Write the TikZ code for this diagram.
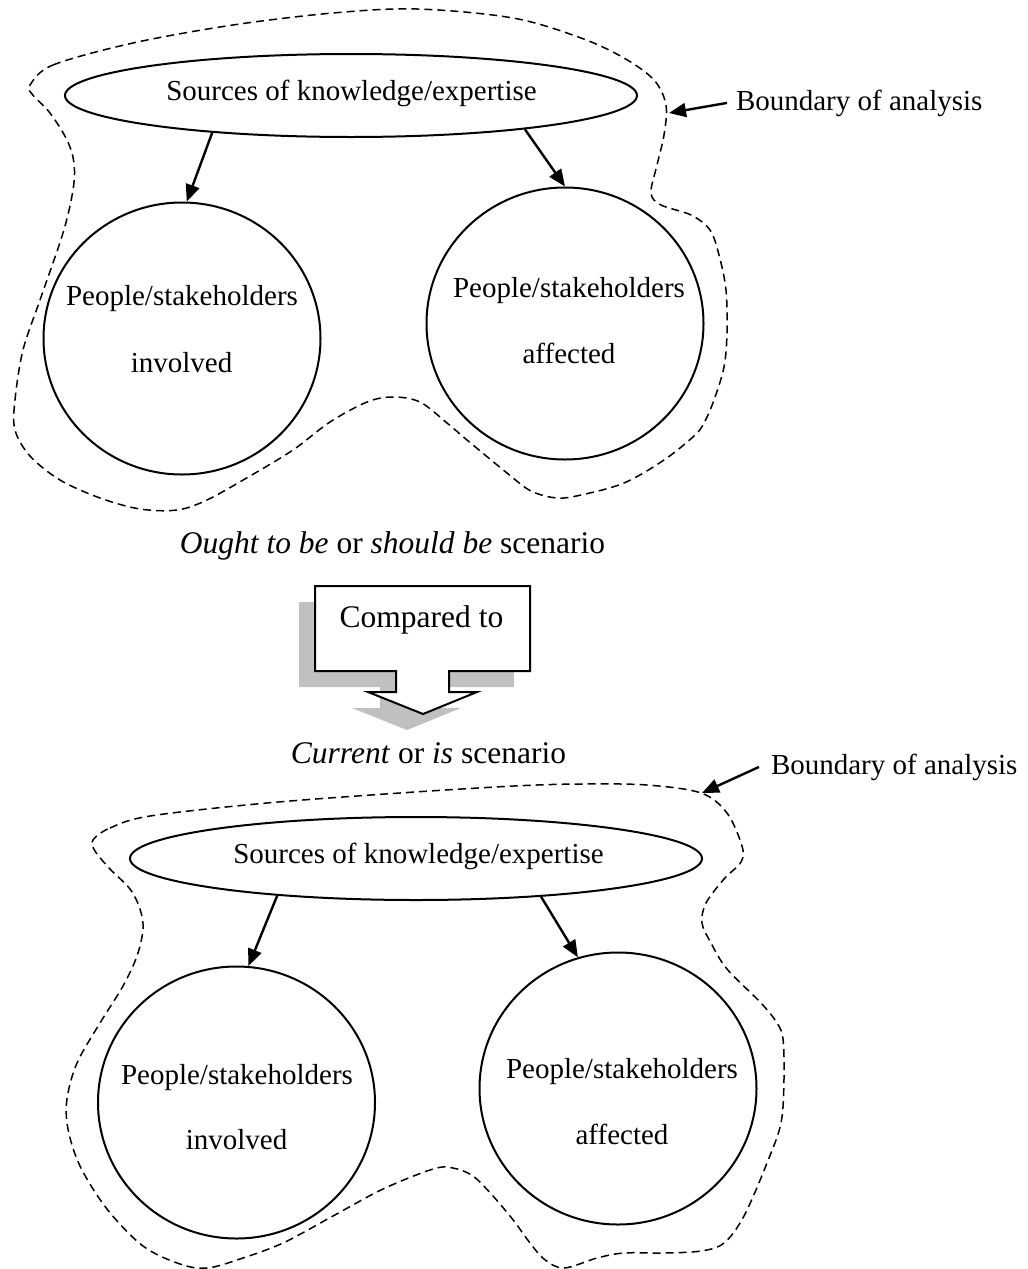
\documentclass[tikz,border=0pt]{standalone}
\usepackage{fontspec}
\setmainfont{Liberation Serif}
\usetikzlibrary{shapes.geometric,arrows.meta}
\definecolor{shadowgray}{HTML}{C0C0C0}
\tikzset{
  oval/.style={draw, line width=2pt, ellipse, inner sep=0pt, minimum width=572pt, minimum height=83pt},
  pcircle/.style={draw, line width=2pt, ellipse, inner sep=0pt, minimum width=277pt, minimum height=272pt},
  txt/.style={anchor=base, inner sep=0pt, font=\fontsize{29}{34}\selectfont},
  bigtxt/.style={anchor=base, inner sep=0pt, font=\fontsize{31.5}{38}\selectfont},
  lab/.style={anchor=base west, inner sep=0pt, font=\fontsize{29}{34}\selectfont},
  arr/.style={line width=2.4pt, -{Triangle[length=17pt,width=14pt]}},
  bound/.style={line width=1.5pt, dash pattern=on 8pt off 5pt},
  callout/.style={line width=2pt}
}
\begin{document}
\begin{tikzpicture}[x=1pt,y=-1pt]
\useasboundingbox (0,0) rectangle (1028,1269);

% ---------------- upper scenario ----------------
\draw[bound] plot[smooth cycle, tension=0.55] coordinates {
 (30,85) (53,65) (133,43) (233,25) (333,13) (417,9) (513,18) (581,38) (624,58) (654,80)
 (666,105) (664,135) (657,165) (651,193) (661,205) (691,215) (710,230) (719,255) (726,290)
 (727,333) (724,367) (714,400) (704,423) (694,436) (664,460) (624,483) (581,495) (557,498)
 (531,491) (507,473) (467,440) (447,423) (420,402) (393,397) (367,402) (330,422) (293,450)
 (250,476) (207,500) (177,510) (140,509) (100,498) (60,480) (30,456) (15,430) (15,400)
 (23,350) (40,300) (63,233) (73,190) (74,163) (67,140) (50,113) (32,94)};

\node[oval] (src1) at (351,95.5) {};
\node[txt] (src1t) at (351.5,100) {Sources of knowledge/expertise};

\node[pcircle] (inv1) at (182,338.5) {};
\node[txt] (inv1a) at (182,305) {People/stakeholders};
\node[txt] (inv1b) at (181.5,372) {involved};

\node[pcircle] (aff1) at (565,323.5) {};
\node[txt] (aff1a) at (569,297) {People/stakeholders};
\node[txt] (aff1b) at (569,363) {affected};

\draw[arr] (src1.195.8) -- (inv1.88.3);
\draw[arr] (src1.349) -- (aff1.90);

\node[lab, outer xsep=9pt] (lab1) at (727,110) {Boundary of analysis};
\coordinate (b1) at (669,113);
\draw[arr] (lab1.west) -- (b1);

\node[bigtxt] (ought) at (392.5,553) {\textit{Ought to be} or \textit{should be} scenario};

% ---------------- compared-to callout ----------------
\fill[shadowgray] (299,602) -- (514,602) -- (514,687) -- (433,687) -- (433,708) -- (461,708)
  -- (407,730) -- (352,708) -- (380,708) -- (380,687) -- (299,687) -- cycle;
\draw[callout, fill=white] (315,586) -- (530,586) -- (530,671) -- (449,671) -- (449,692) -- (477,692)
  -- (423,714) -- (368,692) -- (396,692) -- (396,671) -- (315,671) -- cycle;
\node[bigtxt] (cmp) at (421.5,627) {Compared to};

\node[bigtxt] (curr) at (428.5,763) {\textit{Current} or \textit{is} scenario};

% ---------------- lower scenario ----------------
\draw[bound] plot[smooth cycle, tension=0.55] coordinates {
 (93,840) (110,828) (150,816) (267,803) (400,793) (514,786) (581,784) (647,785) (701,793)
 (727,813) (742,846) (741,862) (724,879) (706,903) (702,923) (711,943) (727,969) (761,1003)
 (777,1023) (783,1039) (784,1079) (781,1123) (767,1163) (744,1216) (724,1243) (701,1251)
 (664,1253) (624,1253) (597,1258) (564,1268) (544,1259) (527,1239) (514,1221) (493,1196)
 (473,1176) (453,1168) (433,1169) (383,1189) (333,1216) (283,1243) (240,1259) (207,1268)
 (180,1264) (143,1246) (107,1209) (80,1166) (68,1129) (67,1099) (77,1063) (100,1023)
 (123,986) (137,956) (143,929) (140,909) (130,889) (110,869) (95,851)};

\node[oval] (src2) at (416,858.5) {};
\node[txt] (src2t) at (418.5,863) {Sources of knowledge/expertise};

\node[pcircle] (inv2) at (236.5,1102.5) {};
\node[txt] (inv2a) at (237,1084) {People/stakeholders};
\node[txt] (inv2b) at (236.5,1149) {involved};

\node[pcircle] (aff2) at (618,1088.5) {};
\node[txt] (aff2a) at (622,1078) {People/stakeholders};
\node[txt] (aff2b) at (622,1144) {affected};

\draw[arr] (src2.195.4) -- (inv2.85.3);
\draw[arr] (src2.343) -- (aff2.107.2);

\node[lab, outer xsep=12pt] (lab2) at (759,774) {Boundary of analysis};
\coordinate (b2) at (702,793);
\draw[arr] (lab2.west) -- (b2);
\end{tikzpicture}
\end{document}
